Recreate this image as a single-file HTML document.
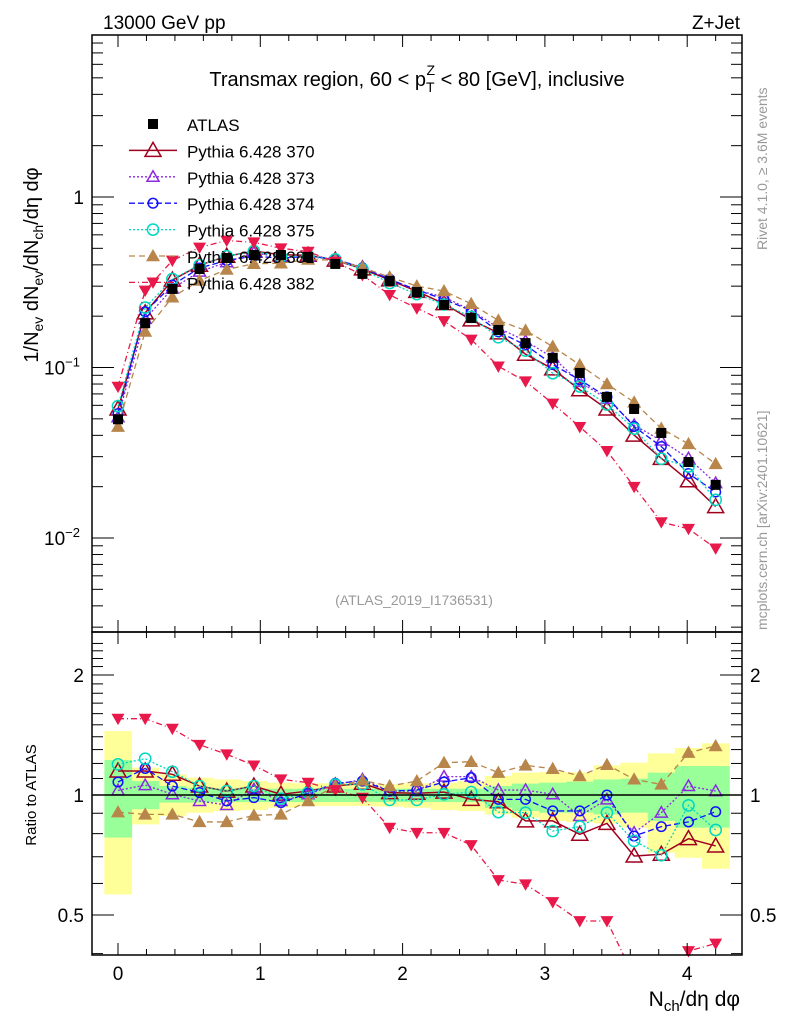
<!DOCTYPE html>
<html><head><meta charset="utf-8"><style>
html,body{margin:0;padding:0;background:#fff;}
svg text{font-family:"Liberation Sans",sans-serif;}
</style></head><body>
<svg id="chart" width="786" height="1024" viewBox="0 0 786 1024" xmlns="http://www.w3.org/2000/svg">
<g id="bands"></g>
<g id="series"></g>
<g id="axes"></g>
<text x="103" y="29" font-size="19">13000 GeV pp</text>
<text x="740" y="29" font-size="19" text-anchor="end">Z+Jet</text>
<text x="417" y="86" font-size="20" text-anchor="middle">Transmax region, 60 &lt; p<tspan font-size="14" dy="6">T</tspan><tspan font-size="14" dx="-8" dy="-17">Z</tspan><tspan dy="11"> &lt; 80 [GeV], inclusive</tspan></text>
<text x="414" y="605" font-size="14" fill="#999" text-anchor="middle">(ATLAS_2019_I1736531)</text>
<text transform="translate(767,250) rotate(-90)" font-size="14" fill="#999">Rivet 4.1.0, ≥ 3.6M events</text>
<text transform="translate(767,630) rotate(-90)" font-size="14" fill="#999">mcplots.cern.ch [arXiv:2401.10621]</text>
<text transform="translate(38,265) rotate(-90)" font-size="20" text-anchor="middle">1/N<tspan font-size="14" dy="5">ev</tspan><tspan dy="-5"> dN</tspan><tspan font-size="14" dy="5">ev</tspan><tspan dy="-5">/dN</tspan><tspan font-size="14" dy="5">ch</tspan><tspan dy="-5">/dη dφ</tspan></text>
<text transform="translate(36,795) rotate(-90)" font-size="15" text-anchor="middle">Ratio to ATLAS</text>
<text x="740" y="1006" font-size="21" text-anchor="end">N<tspan font-size="15" dy="5">ch</tspan><tspan dy="-5">/dη dφ</tspan></text>
<g id="legend"></g>
</svg>
<script>
const NS="http://www.w3.org/2000/svg";
// ---- data ----
const xVals=[0,0.191,0.382,0.573,0.764,0.955,1.145,1.336,1.527,1.718,1.909,2.1,2.291,2.482,2.673,2.864,3.055,3.245,3.436,3.627,3.818,4.009,4.2];
const atlas=[0.0497,0.182,0.289,0.378,0.439,0.457,0.457,0.445,0.405,0.354,0.322,0.277,0.233,0.195,0.166,0.139,0.114,0.0929,0.0672,0.0571,0.0413,0.0279,0.0205];
const r370=[1.149,1.149,1.127,1.053,1.023,1.053,1.004,1.023,1.053,1.070,1.014,1.010,1.017,0.975,0.962,0.861,0.861,0.797,0.849,0.703,0.710,0.777,0.745];
const r373=[1.027,1.059,1.004,0.966,0.944,1.033,0.966,1.004,1.063,1.094,1.023,1.023,1.112,1.112,1.029,1.029,1.004,0.886,0.975,0.804,0.903,1.053,1.023];
const r374=[1.078,1.166,1.053,1.014,0.966,0.985,0.957,1.010,1.070,1.084,1.023,1.029,1.078,1.105,0.975,0.975,0.912,0.912,1.0,0.789,0.833,0.856,0.908];
const r375=[1.194,1.233,1.144,1.053,1.023,1.053,0.979,1.014,1.063,1.063,0.972,0.972,1.004,1.017,0.906,0.903,0.812,0.833,0.903,0.767,0.706,0.942,0.817];
const r381=[0.906,0.894,0.894,0.856,0.856,0.889,0.894,0.966,1.053,1.088,1.053,1.084,1.205,1.212,1.138,1.187,1.164,1.116,1.191,1.095,1.063,1.277,1.327];
const r382=[1.554,1.554,1.467,1.337,1.265,1.187,1.095,1.074,1.029,0.985,0.828,0.804,0.804,0.749,0.612,0.597,0.539,0.483,0.483,0.35,0.30,0.406,0.424];
const yelUp=[1.447,1.171,1.127,1.105,1.094,1.084,1.074,1.070,1.070,1.070,1.063,1.070,1.074,1.084,1.116,1.138,1.142,1.140,1.187,1.205,1.272,1.312,1.348];
const yelDn=[0.563,0.844,0.886,0.903,0.912,0.917,0.929,0.938,0.938,0.938,0.935,0.929,0.917,0.912,0.894,0.877,0.861,0.856,0.849,0.828,0.717,0.696,0.653];
const grnUp=[1.224,1.084,1.053,1.043,1.037,1.037,1.037,1.037,1.037,1.037,1.037,1.037,1.037,1.037,1.053,1.068,1.074,1.080,1.094,1.099,1.138,1.182,1.182];
const grnDn=[0.782,0.921,0.957,0.957,0.960,0.960,0.960,0.960,0.960,0.960,0.960,0.960,0.960,0.960,0.929,0.912,0.903,0.903,0.894,0.903,0.861,0.828,0.828];
const xTicks=[0,1,2,3,4];
// ---- axes functions ----
const L=92,R=742,T=35,MB=632,RB=955;
const xs=v=>118+v*142.3;
const ys=v=>197-Math.log10(v)*170.5;
const yr=v=>795-Math.log2(v)*120;
function el(tag,attrs,parent){const e=document.createElementNS(NS,tag);for(const k in attrs)e.setAttribute(k,attrs[k]);parent.appendChild(e);return e;}
const bands=document.getElementById('bands'),ser=document.getElementById('series'),axes=document.getElementById('axes'),leg=document.getElementById('legend');
const hw=13.6;
xVals.forEach((x,i)=>{
  const y1=el('rect',{x:xs(x)-hw,y:yr(yelUp[i]),width:hw*2+0.5,height:yr(yelDn[i])-yr(yelUp[i]),fill:'#ffff99'},bands);
  
  
});
xVals.forEach((x,i)=>{
  const g1=el('rect',{x:xs(x)-hw,y:yr(grnUp[i]),width:hw*2+0.5,height:yr(grnDn[i])-yr(grnUp[i]),fill:'#99ff99'},bands);
  
  
});
[[T,MB],[MB,RB]].forEach(([a,b])=>{const f=el('rect',{x:L,y:a,width:R-L,height:b-a,fill:'none',stroke:'#000','stroke-width':1.5},axes);});
const one=el('line',{x1:L,x2:R,y1:yr(1),y2:yr(1),stroke:'#000','stroke-width':1.5},axes);


for(let k=-1;k<=22;k++){const xv=k*0.2;const px=xs(xv);if(px<L||px>R)continue;
  const major=k%5==0;const len=major?12:6;
  [[T,1],[MB,-1],[MB,1],[RB,-1]].forEach(([y0,d])=>el('line',{x1:px,x2:px,y1:y0,y2:y0+d*len,stroke:'#000','stroke-width':1},axes));}
xTicks.forEach(t=>{const tx=el('text',{x:xs(t),y:980,'font-size':19,'text-anchor':'middle'},axes);tx.textContent=t;});
for(let d=-3;d<=0;d++)for(let m=1;m<=9;m++){const v=m*Math.pow(10,d);const py=ys(v);if(py<T||py>MB)continue;const len=m==1?22:11;
  el('line',{x1:L,x2:L+len,y1:py,y2:py,stroke:'#000'},axes);el('line',{x1:R,x2:R-len,y1:py,y2:py,stroke:'#000'},axes);}
const ytl=[["1",1],["10",0.1,"−1"],["10",0.01,"−2"]];
ytl.forEach(a=>{const t=el('text',{x:a[2]?62:84,y:ys(a[1])+7,'font-size':19,'text-anchor':a[2]?'middle':'end'},axes);
  t.textContent=a[0];if(a[2]){const s=el('tspan',{'font-size':13,dy:-8},t);s.textContent=a[2];}});
for(let v=0.4;v<=2.5;v+=0.1){const vv=Math.round(v*10)/10;const py=yr(vv);if(py<MB||py>RB)continue;const major=(vv==0.5||vv==1||vv==2);const len=major?22:11;
  el('line',{x1:L,x2:L+len,y1:py,y2:py,stroke:'#000'},axes);el('line',{x1:R,x2:R-len,y1:py,y2:py,stroke:'#000'},axes);}
[["2",2],["1",1],["0.5",0.5]].forEach(a=>{const t=el('text',{x:84,y:yr(a[1])+7,'font-size':19,'text-anchor':'end'},axes);t.textContent=a[0];
  const t2=el('text',{x:750,y:yr(a[1])+7,'font-size':19},axes);t2.textContent=a[0];});
function marker(g,kind,color,x,y,s){
  if(kind=='sq')return el('rect',{x:x-5,y:y-5,width:10,height:10,fill:color},g);
  if(kind=='tri')return el('polygon',{points:`${x},${y-s} ${x-s},${y+s*0.75} ${x+s},${y+s*0.75}`,fill:'none',stroke:color,'stroke-width':1.5},g);
  if(kind=='ftri')return el('polygon',{points:`${x},${y-s} ${x-s},${y+s*0.75} ${x+s},${y+s*0.75}`,fill:color},g);
  if(kind=='dtri')return el('polygon',{points:`${x},${y+s} ${x-s},${y-s*0.75} ${x+s},${y-s*0.75}`,fill:color},g);
  if(kind=='circ')return el('circle',{cx:x,cy:y,r:s*0.8,fill:'none',stroke:color,'stroke-width':1.5},g);
}
const series=[
 {n:'370',r:r370,c:'#a0001e',k:'tri',s:8,d:'',w:1.5},
 {n:'373',r:r373,c:'#8a2be2',k:'tri',s:6,d:'2,2',w:1.3},
 {n:'374',r:r374,c:'#1010ff',k:'circ',s:6,d:'6,3',w:1.3},
 {n:'375',r:r375,c:'#00d8c0',k:'circ',s:7,d:'2,2',w:1.3},
 {n:'381',r:r381,c:'#b8864b',k:'ftri',s:7,d:'6,4',w:1.3},
 {n:'382',r:r382,c:'#e8194a',k:'dtri',s:6.5,d:'6,3,1,3',w:1.3}];
function clipR(v){return Math.min(Math.max(yr(v),MB),RB+40);}
series.forEach(S=>{
  const g=el('g',{},ser);
  const mp=xVals.map((x,i)=>xs(x)+','+ys(atlas[i]*S.r[i])).join(' ');
  el('polyline',{points:mp,fill:'none',stroke:S.c,'stroke-width':S.w,'stroke-dasharray':S.d},g);
  const rp=xVals.map((x,i)=>xs(x)+','+clipR(S.r[i])).join(' ');
  const cp=el('clipPath',{id:'cp'+S.n},g);el('rect',{x:L,y:MB,width:R-L,height:RB-MB},cp);
  el('polyline',{points:rp,fill:'none',stroke:S.c,'stroke-width':S.w,'stroke-dasharray':S.d,'clip-path':`url(#cp${S.n})`},g);
  xVals.forEach((x,i)=>{
    const m=marker(g,S.k,S.c,xs(x),ys(atlas[i]*S.r[i]),S.s);
    const ry=yr(S.r[i]);if(ry>MB+2&&ry<RB){const m2=marker(g,S.k,S.c,xs(x),ry,S.s);}
  });
});
const ga=el('g',{},ser);
xVals.forEach((x,i)=>{const m=marker(ga,'sq','#000',xs(x),ys(atlas[i]),5);});
const lrows=[['ATLAS',null]].concat(series.map(S=>['Pythia 6.428 '+S.n,S]));
lrows.forEach((row,i)=>{const y=124+i*26.4;const g=el('g',{},leg);
  if(!row[1])marker(g,'sq','#000',153,y,5);else{const S=row[1];el('line',{x1:129,x2:177,y1:y,y2:y,stroke:S.c,'stroke-width':S.w,'stroke-dasharray':S.d},g);marker(g,S.k,S.c,153,y,S.s);}
  const t=el('text',{x:187,y:y+7,'font-size':17},g);t.textContent=row[0];});
</script>
</body></html>
